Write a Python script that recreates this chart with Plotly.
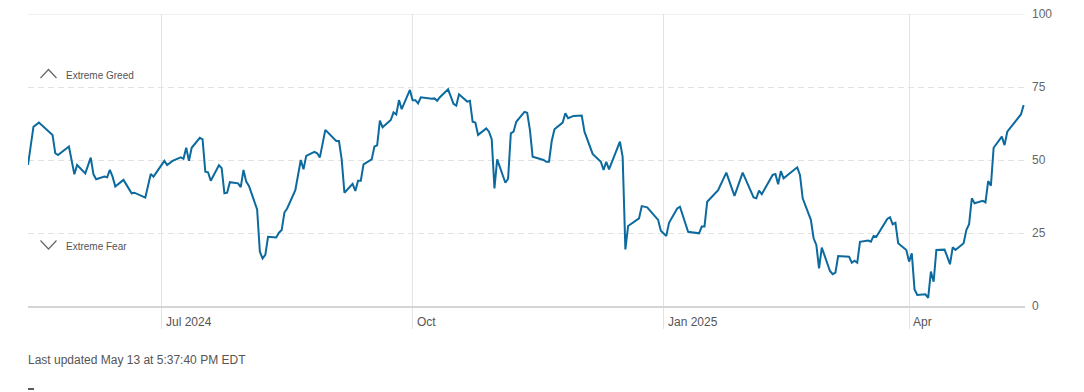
import plotly.graph_objects as go

# ---- data ----
dates = [
    "2024-05-13", "2024-05-14", "2024-05-15", "2024-05-17", "2024-05-22", "2024-05-23", "2024-05-24",
    "2024-05-28", "2024-05-30", "2024-05-31", "2024-06-03", "2024-06-05", "2024-06-06", "2024-06-07",
    "2024-06-10", "2024-06-11", "2024-06-12", "2024-06-13", "2024-06-14", "2024-06-17", "2024-06-20",
    "2024-06-21", "2024-06-25", "2024-06-27", "2024-06-28", "2024-07-02", "2024-07-03", "2024-07-05",
    "2024-07-08", "2024-07-09", "2024-07-10", "2024-07-11", "2024-07-12", "2024-07-15", "2024-07-16",
    "2024-07-17", "2024-07-18", "2024-07-19", "2024-07-22", "2024-07-23", "2024-07-24", "2024-07-25",
    "2024-07-26", "2024-07-29", "2024-07-30", "2024-07-31", "2024-08-01", "2024-08-02", "2024-08-05",
    "2024-08-06", "2024-08-07", "2024-08-08", "2024-08-09", "2024-08-12", "2024-08-13", "2024-08-14",
    "2024-08-15", "2024-08-16", "2024-08-19", "2024-08-21", "2024-08-22", "2024-08-23", "2024-08-26",
    "2024-08-27", "2024-08-28", "2024-08-30", "2024-09-03", "2024-09-04", "2024-09-05", "2024-09-06",
    "2024-09-09", "2024-09-10", "2024-09-11", "2024-09-12", "2024-09-13", "2024-09-16", "2024-09-17",
    "2024-09-18", "2024-09-19", "2024-09-20", "2024-09-23", "2024-09-24", "2024-09-25", "2024-09-26",
    "2024-09-27", "2024-09-30", "2024-10-01", "2024-10-02", "2024-10-03", "2024-10-04", "2024-10-07",
    "2024-10-08", "2024-10-09", "2024-10-10", "2024-10-11", "2024-10-14", "2024-10-16", "2024-10-17",
    "2024-10-18", "2024-10-21", "2024-10-22", "2024-10-23", "2024-10-24", "2024-10-25", "2024-10-28",
    "2024-10-29", "2024-10-30", "2024-10-31", "2024-11-01", "2024-11-04", "2024-11-05", "2024-11-06",
    "2024-11-07", "2024-11-08", "2024-11-11", "2024-11-12", "2024-11-13", "2024-11-14", "2024-11-18",
    "2024-11-19", "2024-11-20", "2024-11-21", "2024-11-22", "2024-11-25", "2024-11-26", "2024-11-27",
    "2024-11-29", "2024-12-02", "2024-12-03", "2024-12-06", "2024-12-09", "2024-12-10", "2024-12-11",
    "2024-12-12", "2024-12-16", "2024-12-17", "2024-12-18", "2024-12-19", "2024-12-23", "2024-12-24",
    "2024-12-26", "2024-12-30", "2024-12-31", "2025-01-02", "2025-01-03", "2025-01-06", "2025-01-07",
    "2025-01-10", "2025-01-14", "2025-01-15", "2025-01-16", "2025-01-17", "2025-01-21", "2025-01-24",
    "2025-01-27", "2025-01-30", "2025-02-03", "2025-02-04", "2025-02-05", "2025-02-06", "2025-02-10",
    "2025-02-11", "2025-02-12", "2025-02-13", "2025-02-14", "2025-02-19", "2025-02-20", "2025-02-21",
    "2025-02-24", "2025-02-25", "2025-02-26", "2025-02-27", "2025-02-28", "2025-03-03", "2025-03-04",
    "2025-03-05", "2025-03-06", "2025-03-10", "2025-03-11", "2025-03-12", "2025-03-13", "2025-03-14",
    "2025-03-17", "2025-03-18", "2025-03-19", "2025-03-20", "2025-03-24", "2025-03-25", "2025-03-26",
    "2025-03-27", "2025-03-28", "2025-03-31", "2025-04-01", "2025-04-02", "2025-04-03", "2025-04-04",
    "2025-04-07", "2025-04-08", "2025-04-09", "2025-04-10", "2025-04-11", "2025-04-14", "2025-04-15",
    "2025-04-16", "2025-04-17", "2025-04-18", "2025-04-21", "2025-04-22", "2025-04-23", "2025-04-24",
    "2025-04-25", "2025-04-28", "2025-04-29", "2025-04-30", "2025-05-01", "2025-05-02", "2025-05-05",
    "2025-05-06", "2025-05-07", "2025-05-09", "2025-05-12", "2025-05-13",
]
index_values = [
    48.3, 55.0, 61.4, 62.8, 58.6, 52.3, 51.7,
    54.6, 45.1, 48.3, 45.4, 50.8, 45.1, 43.4,
    44.3, 44.1, 46.6, 44.3, 40.9, 43.2, 38.6,
    38.8, 37.1, 45.2, 44.3, 49.7, 48.3, 49.7,
    50.9, 50.4, 54.2, 49.7, 54.2, 57.6, 57.1,
    46.0, 45.8, 42.9, 48.2, 47.2, 38.6, 38.8,
    42.4, 42.0, 40.7, 46.6, 42.6, 41.1, 33.1,
    18.6, 16.3, 17.5, 23.7, 23.5, 25.1, 26.0,
    32.0, 33.4, 39.7, 50.0, 46.8, 51.4, 52.8,
    52.3, 50.9, 60.3, 56.5, 56.5, 50.2, 38.8,
    41.8, 39.4, 42.9, 42.9, 48.5, 50.2, 54.6,
    55.0, 63.5, 61.2, 63.7, 66.3, 65.6, 70.5,
    67.4, 74.0, 70.5, 70.5, 69.4, 71.5, 71.0,
    71.0, 71.1, 70.3, 71.5, 74.2, 69.2, 68.6,
    72.5, 70.0, 70.3, 63.1, 62.8, 58.6, 60.8,
    59.7, 57.1, 40.3, 50.2, 42.2, 43.6, 59.1,
    59.7, 63.1, 66.5, 66.2, 60.3, 51.1, 50.0,
    49.4, 49.4, 56.5, 60.5, 62.8, 66.0, 64.3,
    65.1, 65.2, 59.7, 52.1, 49.4, 46.6, 49.4,
    46.8, 56.3, 51.1, 19.4, 27.4, 30.0, 34.2,
    33.8, 29.5, 25.8, 24.0, 28.5, 33.4, 34.0,
    25.4, 24.9, 27.2, 27.2, 35.7, 39.7, 45.7,
    37.7, 45.7, 37.2, 36.9, 39.5, 38.3, 44.9,
    45.2, 41.7, 46.2, 43.7, 47.5, 44.9, 36.9,
    29.5, 23.2, 20.9, 12.9, 20.0, 12.0, 10.9,
    11.4, 17.1, 16.9, 14.8, 15.5, 14.8, 22.0,
    22.4, 22.0, 24.0, 23.7, 29.8, 30.4, 28.0,
    28.5, 21.5, 19.2, 15.2, 18.0, 5.7, 3.8,
    4.0, 2.8, 11.8, 8.3, 19.2, 19.3, 16.9,
    14.3, 20.1, 19.2, 21.5, 26.0, 28.0, 36.9,
    35.2, 36.0, 35.5, 42.8, 41.2, 54.2, 58.0,
    55.1, 59.7, 62.2, 65.6, 68.8,
]
month_ticks = ["2024-07-01", "2024-10-01", "2025-01-01", "2025-04-01"]
month_labels = ["Jul 2024", "Oct", "Jan 2025", "Apr"]
y_ticks = [0, 25, 50, 75, 100]
zone_labels = ["Extreme Greed", "Extreme Fear"]
footer_text = "Last updated May 13 at 5:37:40 PM EDT"

FONT = "Liberation Sans, Arial, Helvetica, sans-serif"
GRID = "#e3e3e3"
TEXT = "#555555"

# plot area geometry (pixels) used to place decorations
L, R, T, B = 28, 59, 14, 86
W, H = 1084, 392
PW, PH = W - L - R, H - T - B


def px(xp):
    return (xp - L) / PW


def py(yp):
    return (H - B - yp) / PH


fig = go.Figure()
fig.add_trace(go.Scatter(
    x=dates, y=index_values, mode="lines",
    line=dict(color="#0c6a9e", width=2),
    hoverinfo="skip", showlegend=False,
))

annotations = []
for d, lab in zip(month_ticks, month_labels):
    annotations.append(dict(
        x=d, xref="x", y=0, yref="paper", yanchor="middle", yshift=-16,
        xanchor="left", xshift=2, text=lab, showarrow=False,
        font=dict(family=FONT, size=12, color=TEXT),
    ))

annotations.append(dict(x=px(63.5), xref="paper", y=py(75.5), yref="paper",
                        xanchor="left", yanchor="middle", text=zone_labels[0],
                        showarrow=False, font=dict(family=FONT, size=10, color=TEXT)))
annotations.append(dict(x=px(63.5), xref="paper", y=py(246.5), yref="paper",
                        xanchor="left", yanchor="middle", text=zone_labels[1],
                        showarrow=False, font=dict(family=FONT, size=10, color=TEXT)))
annotations.append(dict(x=px(26), xref="paper", y=py(360), yref="paper",
                        xanchor="left", yanchor="middle", text=footer_text,
                        showarrow=False, font=dict(family=FONT, size=12, color=TEXT)))

shapes = [
    # chevron up (greed)
    dict(type="path", xref="paper", yref="paper",
         path=f"M {px(40.5)},{py(78)} L {px(48.5)},{py(69.5)} L {px(56.5)},{py(78)}",
         line=dict(color="#666666", width=1.2)),
    # chevron down (fear)
    dict(type="path", xref="paper", yref="paper",
         path=f"M {px(40.5)},{py(240.5)} L {px(48.5)},{py(249)} L {px(56.5)},{py(240.5)}",
         line=dict(color="#666666", width=1.2)),
    # solid top line
    dict(type="line", xref="paper", yref="y", x0=0, x1=1, y0=100, y1=100,
         line=dict(color=GRID, width=1), layer="below"),
    # small dash at the bottom left
    dict(type="line", xref="paper", yref="paper", x0=px(28), x1=px(34),
         y0=py(389), y1=py(389), line=dict(color="#222222", width=1.5)),
]

fig.update_layout(
    width=W, height=H,
    margin=dict(l=L, r=R, t=T, b=B, autoexpand=False),
    paper_bgcolor="white", plot_bgcolor="white",
    font=dict(family=FONT, size=12, color=TEXT),
    showlegend=False,
    annotations=annotations,
    shapes=shapes,
    xaxis=dict(
        type="date", range=["2024-05-13", "2025-05-13 12:00"],
        tickvals=month_ticks, showticklabels=False,
        ticks="outside", ticklen=21, tickcolor=GRID, tickwidth=1,
        showgrid=True, gridcolor=GRID, gridwidth=1,
        showline=True, linecolor="#d5d5d5", linewidth=2,
        zeroline=False, fixedrange=True, automargin=False,
    ),
    yaxis=dict(
        range=[0, 100], side="right", tickvals=y_ticks,
        showgrid=True, gridcolor=GRID, gridwidth=1, griddash="6px,4px",
        ticks="", ticklabelstandoff=6,
        tickfont=dict(family=FONT, size=12, color="#666666"),
        showline=False, zeroline=False, fixedrange=True, automargin=False,
    ),
)

fig.write_html("out.html", config={"displayModeBar": False, "staticPlot": True},
               post_script="document.body.style.margin='0';")
